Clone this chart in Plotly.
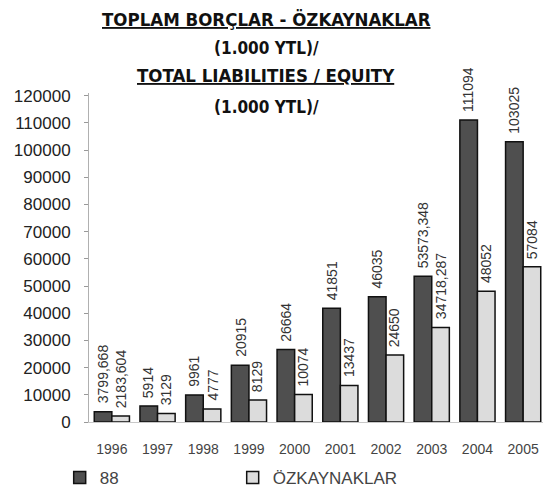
import plotly.graph_objects as go

years = ["1996", "1997", "1998", "1999", "2000", "2001", "2002", "2003", "2004", "2005"]
liabilities = [3799.668, 5914, 9961, 20915, 26664, 41851, 46035, 53573.348, 111094, 103025]
liab_labels = ["3799,668", "5914", "9961", "20915", "26664", "41851", "46035", "53573,348", "111094", "103025"]
equity = [2183.604, 3129, 4777, 8129, 10074, 13437, 24650, 34718.287, 48052, 57084]
equity_labels = ["2183,604", "3129", "4777", "8129", "10074", "13437", "24650", "34718,287", "48052", "57084"]
series_names = ["88", "ÖZKAYNAKLAR"]
y_ticks = list(range(0, 120001, 10000))

OFF = 8  # page body margin
W, H = 551 - OFF, 497 - OFF
L, R, T, B = 81, 5, 85, 75
plot_h = H - T - B
plot_w = W - L - R

fig = go.Figure()
fig.add_trace(go.Bar(x=years, y=liabilities, name=series_names[0],
                     marker=dict(color="#4f4f4f", line=dict(color="#111", width=1.5))))
fig.add_trace(go.Bar(x=years, y=equity, name=series_names[1],
                     marker=dict(color="#dcdcdc", line=dict(color="#111", width=1.5))))

label_font = dict(family="Liberation Sans, Arial", size=14, color="#333")
annos = []
for i, (v, t) in enumerate(zip(liabilities, liab_labels)):
    annos.append(dict(x=i, y=v, xref="x", yref="y", text=t, showarrow=False, textangle=-90,
                      xanchor="center", yanchor="bottom", xshift=-8.8, yshift=6, font=label_font))
for i, (v, t) in enumerate(zip(equity, equity_labels)):
    annos.append(dict(x=i, y=v, xref="x", yref="y", text=t, showarrow=False, textangle=-90,
                      xanchor="center", yanchor="bottom", xshift=8.8, yshift=6, font=label_font))

fam = "DejaVu Sans Condensed, Liberation Sans Narrow, Arial Narrow"
cx = (266 - OFF - L) / plot_w
titles = [("<b><u>TOPLAM BORÇLAR - ÖZKAYNAKLAR</u></b>", 19, 18.5),
          ("<b>(1.000 YTL)/</b>", 48, 17),
          ("<b><u>TOTAL LIABILITIES / EQUITY</u></b>", 76, 18.5),
          ("<b>(1.000 YTL)/</b>", 107, 17)]
for txt, ypx, fs in titles:
    annos.append(dict(x=cx, y=(H - B - (ypx - OFF)) / plot_h, xref="paper", yref="paper", text=txt,
                      showarrow=False, xanchor="center", yanchor="middle",
                      font=dict(family=fam, size=fs, color="#111")))

fig.update_layout(
    width=W, height=H,
    margin=dict(l=L, r=R, t=T, b=B, pad=0, autoexpand=False),
    paper_bgcolor="white", plot_bgcolor="white",
    barmode="group", bargap=0.23, bargroupgap=0,
    annotations=annos,
    showlegend=True,
    legend=dict(orientation="h", xref="container", yref="container", x=0.0952, y=0.039,
                xanchor="left", yanchor="middle", entrywidth=128, itemwidth=30,
                font=dict(family="Liberation Sans, Arial", size=17, color="#444")),
    xaxis=dict(type="category", range=[-0.5, len(years) - 0.5], showline=True, linecolor="#c8c8c8",
               linewidth=1, ticks="", showgrid=False, automargin=False,
               tickfont=dict(family="Liberation Sans, Arial", size=14, color="#444"),
               ticklabelstandoff=14),
    yaxis=dict(range=[0, 121000], tickvals=y_ticks, tickformat="d", showgrid=False, automargin=False,
               showline=True, linecolor="#b0b0b0", linewidth=1, ticks="outside", ticklen=4,
               tickcolor="#999", zeroline=False, ticklabelstandoff=10,
               tickfont=dict(family="Liberation Sans, Arial", size=17, color="#222")),
)

fig.write_html("out.html")
